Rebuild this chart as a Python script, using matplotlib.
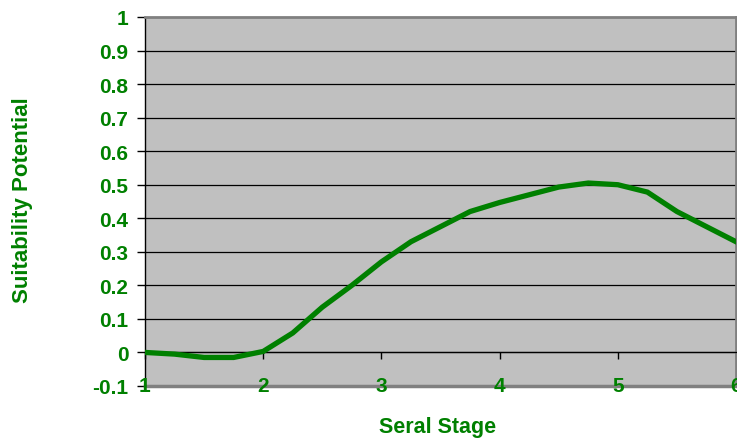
import matplotlib.pyplot as plt
import numpy as np

# seral stage vs. suitability potential
stage = [1, 1.25, 1.5, 1.75, 2, 2.25, 2.5, 2.75, 3, 3.25, 3.5, 3.75,
         4, 4.25, 4.5, 4.75, 5, 5.25, 5.5, 5.75, 6]
suitability = [0.0, -0.005, -0.015, -0.015, 0.003, 0.058, 0.135, 0.2, 0.27,
               0.33, 0.375, 0.42, 0.447, 0.47, 0.493, 0.505, 0.5, 0.478,
               0.42, 0.375, 0.33]
x_ticks = [1, 2, 3, 4, 5, 6]
y_ticks = np.round(np.arange(-0.1, 1.01, 0.1), 1)

green = "#008000"
plt.rcParams['font.family'] = ['Liberation Sans', 'DejaVu Sans']

fig = plt.figure(figsize=(7.37, 4.39), dpi=100)
ax = fig.add_axes([0.1967, 0.1185, 0.802, 0.8405])
ax.set_facecolor("#c0c0c0")

ax.set_xlim(1, 6)
ax.set_ylim(-0.1, 1)

# horizontal grid
for yv in y_ticks:
    if -0.1 < yv < 1:
        ax.axhline(yv, color="black", lw=0.9, zorder=1)

ax.plot(stage, suitability, color=green, lw=3.8, solid_joinstyle="miter", zorder=3)

# x axis crosses at 0, labels sit on the bottom edge
ax.spines["bottom"].set_position(("data", 0))
ax.spines["bottom"].set_color("black")
ax.spines["bottom"].set_linewidth(0.9)
ax.spines["left"].set_color("black")
ax.spines["left"].set_linewidth(1.0)
ax.spines["top"].set_color("#808080")
ax.spines["top"].set_linewidth(2)
ax.spines["right"].set_color("#808080")
ax.spines["right"].set_linewidth(2)
ax.axhline(-0.1, color="#808080", lw=2.5, zorder=2, clip_on=False)

ax.set_xticks(x_ticks)
ax.tick_params(axis="x", direction="out", length=5, width=1, labelbottom=False)
for xv in x_ticks:
    ax.text(xv, -0.1, str(xv), transform=ax.transData, ha="center", va="center",
            color=green, fontsize=15, fontweight="bold", zorder=4, clip_on=False)

ax.set_yticks(y_ticks)
ax.set_yticklabels([f"{v:g}" for v in y_ticks])
ax.tick_params(axis="y", direction="out", length=6, width=1, pad=6,
               labelcolor=green, labelsize=15)
for lbl in ax.get_yticklabels():
    lbl.set_fontweight("bold")

fig.text(0.594, 0.027, "Seral Stage", ha="center", va="center",
         color=green, fontsize=15.5, fontweight="bold")
fig.text(0.03, 0.545, "Suitability Potential", ha="center", va="center",
         rotation=90, color=green, fontsize=16, fontweight="bold")

plt.savefig("out.png", dpi=100)
